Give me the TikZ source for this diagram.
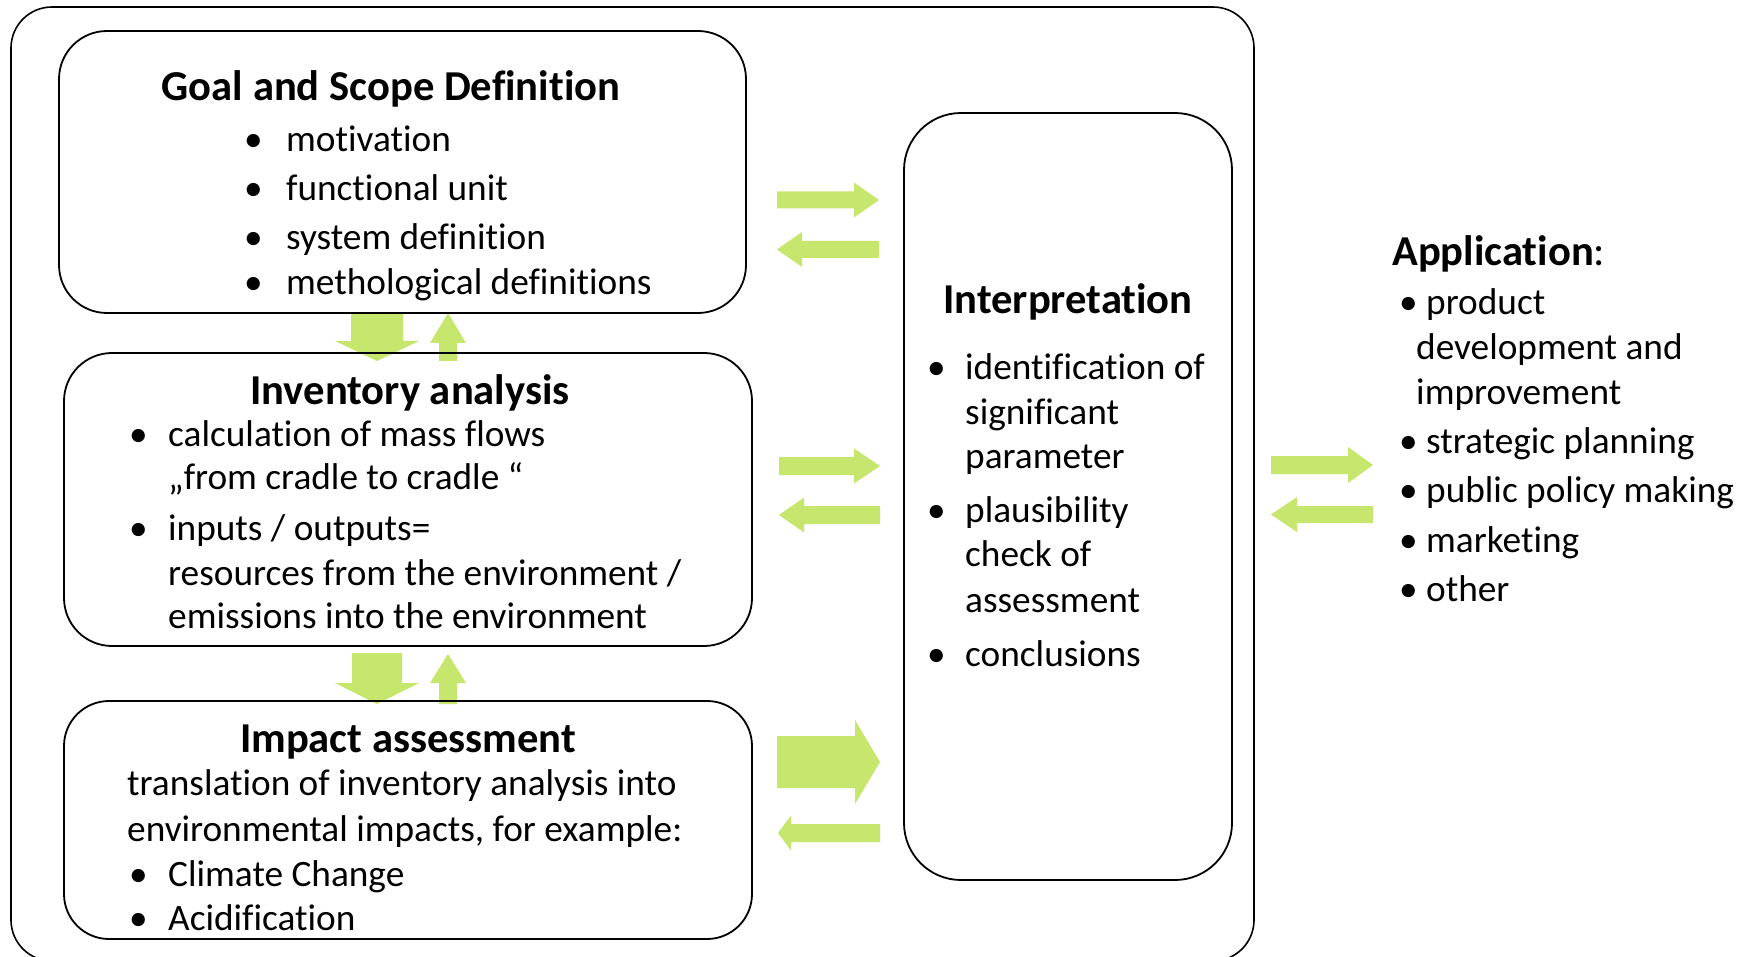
\documentclass[tikz,border=0pt]{standalone}
\usepackage{fontspec}
\setmainfont{Carlito}[Ligatures={NoCommon}]
\definecolor{agreen}{RGB}{198,230,110}
\newcommand{\mybul}[1][40pt]{\llap{\makebox[#1][l]{•}}}
% horizontal block arrow: start x, head-base x, tip x, centre y, shaft half, head half
\newcommand{\harr}[6]{\fill[blockarrow] (#1,#4-#5) -- (#2,#4-#5) -- (#2,#4-#6) -- (#3,#4) -- (#2,#4+#6) -- (#2,#4+#5) -- (#1,#4+#5) -- cycle;}
% vertical block arrow: start y, head-base y, tip y, centre x, shaft half, head half
\newcommand{\varr}[6]{\fill[blockarrow] (#4-#5,#1) -- (#4-#5,#2) -- (#4-#6,#2) -- (#4,#3) -- (#4+#6,#2) -- (#4+#5,#2) -- (#4+#5,#1) -- cycle;}
\tikzset{
  boxline/.style={draw=black, line width=1.8pt},
  outerline/.style={draw=black, line width=1.6pt, rounded corners=41pt},
  body/.style={inner sep=0pt, anchor=base west, font=\fontsize{37.3}{45}\selectfont},
  title/.style={inner sep=0pt, anchor=base, font=\fontsize{42.6}{50}\selectfont\bfseries},
  blockarrow/.style={fill=agreen, draw=none},
}
\begin{document}
\begin{tikzpicture}[x=1pt,y=-1pt]
\clip (0,0) rectangle (1740,957);
\fill[white] (0,0) rectangle (1740,957);

% block arrows
\harr{777}{854}{879}{200}{8.5}{17.5}
\harr{879}{802}{777}{249.5}{8.5}{17.5}
\harr{779}{854}{880}{466}{9}{17.5}
\harr{880}{804}{779}{515}{9}{17.5}
\harr{777}{855}{880}{762}{26}{42}
\harr{880}{791}{778}{833}{9}{17.5}
\harr{1271}{1348}{1373}{465}{9}{18}
\harr{1373}{1297}{1271}{514.5}{8.5}{17.5}
\varr{313}{341}{361}{377}{26}{42}
\varr{361}{343}{313}{448}{9}{18}
\varr{653}{683}{704}{377}{25}{42}
\varr{704}{683}{654}{448}{9}{18}

% boxes
\draw[outerline] (11,7) rectangle (1254,961);
\draw[boxline, rounded corners=48pt] (59,31) rectangle (746,313);
\draw[boxline, rounded corners=48pt] (64,353) rectangle (752,646);
\draw[boxline, rounded corners=45pt] (64,701) rectangle (752,939);
\draw[boxline, rounded corners=57pt] (904,113) rectangle (1232,880);

% Goal and scope
\node[title] (gt) at (391,100.5) {Goal and Scope Definition};
\node[body] (g1) at (286,151.5) {\mybul[42pt]motivation};
\node[body] (g2) at (286,200.5) {\mybul[42pt]functional unit};
\node[body] (g3) at (286,249.5) {\mybul[42pt]system definition};
\node[body] (g4) at (286,294.5) {\mybul[42pt]methological definitions};

% Inventory
\node[title] (it) at (410,404.5) {Inventory analysis};
\node[body] (i1) at (168,446.5) {\mybul[39pt]calculation of mass flows};
\node[body] (i2) at (168,489.5) {„from cradle to cradle “};
\node[body] (i3) at (168,540.5) {\mybul[39pt]inputs / outputs=};
\node[body] (i4) at (168,585.5) {resources from the environment /};
\node[body] (i5) at (168,628.5) {emissions into the environment};

% Impact
\node[title] (mt) at (408,752.5) {Impact assessment};
\node[body] (m1) at (127,795.5) {translation of inventory analysis into};
\node[body] (m2) at (127,841.5) {environmental impacts, for example:};
\node[body] (m3) at (168,886) {\mybul[39pt]Climate Change};
\node[body] (m4) at (168,930) {\mybul[39pt]Acidification};

% Interpretation
\node[title] (pt) at (1068,313.5) {Interpretation};
\node[body] (p1) at (965,379.5) {\mybul[38pt]identification of};
\node[body] (p2) at (965,424.5) {significant};
\node[body] (p3) at (965,468.5) {parameter};
\node[body] (p4) at (965,522.5) {\mybul[38pt]plausibility};
\node[body] (p5) at (965,566.5) {check of};
\node[body] (p6) at (965,612.5) {assessment};
\node[body] (p7) at (965,666.5) {\mybul[38pt]conclusions};

% Application
\node[body, font=\fontsize{42.6}{50}\selectfont] (at) at (1392,265.5) {\textbf{Application}:};
\node[body] (a1) at (1426,314.5) {\mybul[27pt]product};
\node[body] (a2) at (1416,359.5) {development and};
\node[body] (a3) at (1416,404.5) {improvement};
\node[body] (a4) at (1426,453.5) {\mybul[27pt]strategic planning};
\node[body] (a5) at (1426,502.5) {\mybul[27pt]public policy making};
\node[body] (a6) at (1426,552.5) {\mybul[27pt]marketing};
\node[body] (a7) at (1426,601.5) {\mybul[27pt]other};
\end{tikzpicture}
\end{document}
